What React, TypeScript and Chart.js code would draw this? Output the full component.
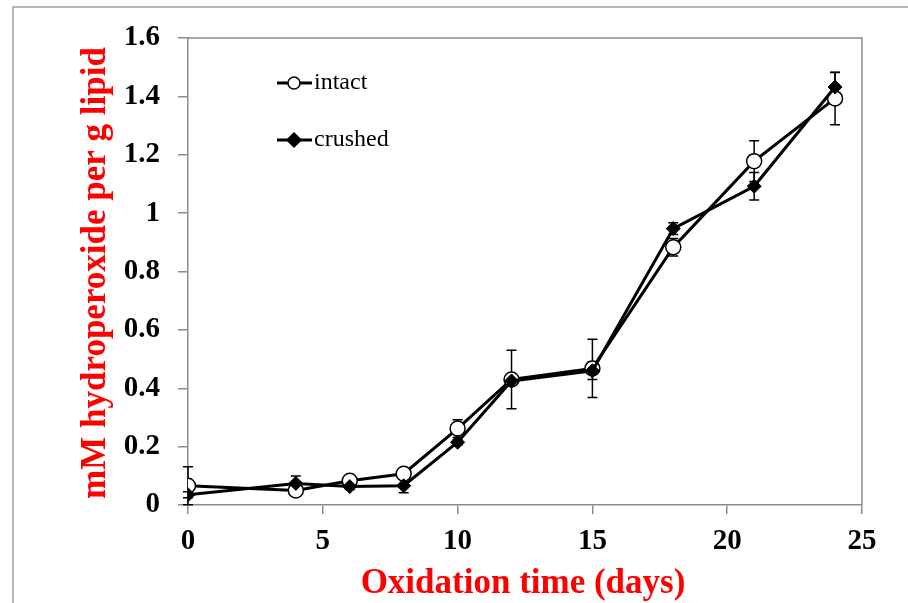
import React, { useEffect, useRef } from "react";
import { Chart, registerables } from "chart.js";

Chart.register(...registerables);

const days = [0, 4, 6, 8, 10, 12, 15, 18, 21, 24];
const intact = [0.066, 0.05, 0.083, 0.107, 0.262, 0.43, 0.468, 0.883, 1.178, 1.393];
const intactErr = [0.065, 0.015, 0.01, 0.02, 0.03, 0.1, 0.1, 0.03, 0.07, 0.09];
const crushed = [0.035, 0.074, 0.063, 0.066, 0.215, 0.425, 0.46, 0.947, 1.092, 1.432];
const crushedErr = [0.01, 0.025, 0.01, 0.024, 0.01, 0.01, 0.03, 0.02, 0.047, 0.05];
const seriesNames = ["intact", "crushed"];
const yTickLabels = ["0", "0.2", "0.4", "0.6", "0.8", "1", "1.2", "1.4", "1.6"];
const xTitle = "Oxidation time (days)";
const yTitle = "mM hydroperoxide per g lipid";

const SERIF = "'Liberation Serif', 'Times New Roman', serif";
const AXIS_GRAY = "#8c8c8c";

const errorBarPlugin = {
  id: "errorBars",
  beforeDatasetsDraw(chart: any) {
    const ctx = chart.ctx;
    const xs = chart.scales.x;
    const ys = chart.scales.y;
    const errs = [intactErr, crushedErr];
    const vals = [intact, crushed];
    ctx.save();
    ctx.strokeStyle = "#000";
    ctx.lineWidth = 1.5;
    for (let s = 0; s < 2; s++) {
      for (let i = 0; i < days.length; i++) {
        const x = xs.getPixelForValue(days[i]);
        const yt = ys.getPixelForValue(vals[s][i] + errs[s][i]);
        const yb = ys.getPixelForValue(vals[s][i] - errs[s][i]);
        ctx.beginPath();
        ctx.moveTo(x, yt);
        ctx.lineTo(x, yb);
        ctx.moveTo(x - 5, yt);
        ctx.lineTo(x + 5, yt);
        ctx.moveTo(x - 5, yb);
        ctx.lineTo(x + 5, yb);
        ctx.stroke();
      }
    }
    ctx.restore();
  },
  afterDraw(chart: any) {
    const ctx = chart.ctx;
    const a = chart.chartArea;
    ctx.save();
    // plot box
    ctx.strokeStyle = AXIS_GRAY;
    ctx.lineWidth = 1.5;
    ctx.beginPath();
    ctx.moveTo(a.left, a.top);
    ctx.lineTo(a.right, a.top);
    ctx.lineTo(a.right, a.bottom);
    ctx.stroke();
    // outer frame
    ctx.strokeStyle = "#a0a0a0";
    ctx.lineWidth = 1.5;
    ctx.beginPath();
    ctx.moveTo(13, 603);
    ctx.lineTo(13, 7);
    ctx.lineTo(908, 7);
    ctx.stroke();
    // axis titles
    ctx.fillStyle = "#ff0000";
    ctx.font = `bold 35px ${SERIF}`;
    ctx.textAlign = "center";
    ctx.textBaseline = "middle";
    ctx.fillText(xTitle, 523, 584);
    ctx.translate(96, 273);
    ctx.rotate(-Math.PI / 2);
    ctx.fillText(yTitle, 0, 0);
    ctx.restore();
    // legend
    ctx.save();
    const items = [
      { y: 83, style: "circle", fill: "#fff" },
      { y: 140, style: "diamond", fill: "#000" },
    ];
    items.forEach((it, k) => {
      ctx.strokeStyle = "#000";
      ctx.lineWidth = 3;
      ctx.beginPath();
      ctx.moveTo(277, it.y);
      ctx.lineTo(312, it.y);
      ctx.stroke();
      ctx.lineWidth = 1.5;
      ctx.fillStyle = it.fill;
      ctx.beginPath();
      if (it.style === "circle") {
        ctx.arc(294, it.y, 6, 0, Math.PI * 2);
      } else {
        ctx.moveTo(294, it.y - 7);
        ctx.lineTo(301, it.y);
        ctx.lineTo(294, it.y + 7);
        ctx.lineTo(287, it.y);
        ctx.closePath();
      }
      ctx.fill();
      ctx.stroke();
      ctx.fillStyle = "#000";
      ctx.font = `24px ${SERIF}`;
      ctx.textAlign = "left";
      ctx.textBaseline = "middle";
      ctx.fillText(seriesNames[k], 314, it.y);
    });
    ctx.restore();
  },
};

export default function App() {
  const ref = useRef<HTMLCanvasElement>(null);
  useEffect(() => {
    if (!ref.current) return;
    const chart = new Chart(ref.current, {
      type: "line",
      data: {
        datasets: [
          {
            label: seriesNames[0],
            data: days.map((d, i) => ({ x: d, y: intact[i] })),
            borderColor: "#000",
            borderWidth: 3,
            pointStyle: "circle",
            pointRadius: 7.5,
            pointBackgroundColor: "#fff",
            pointBorderColor: "#000",
            pointBorderWidth: 1.5,
            order: 1,
          },
          {
            label: seriesNames[1],
            data: days.map((d, i) => ({ x: d, y: crushed[i] })),
            borderColor: "#000",
            borderWidth: 3,
            pointStyle: "rectRot",
            pointRadius: 7,
            pointBackgroundColor: "#000",
            pointBorderColor: "#000",
            pointBorderWidth: 1,
            order: 0,
          },
        ],
      },
      options: {
        animation: false,
        responsive: false,
        layout: { padding: { top: 38, right: 46, left: 0, bottom: 0 } },
        plugins: { legend: { display: false }, tooltip: { enabled: false } },
        scales: {
          x: {
            type: "linear",
            min: 0,
            max: 25,
            ticks: {
              stepSize: 5,
              color: "#000",
              padding: 10,
              font: { family: SERIF, size: 29, weight: "bold" },
            },
            grid: { drawOnChartArea: false, color: AXIS_GRAY, tickLength: 9, lineWidth: 1.5 },
            border: { color: AXIS_GRAY, width: 1.5 },
            afterFit: (s: any) => {
              s.height = 98;
            },
          },
          y: {
            min: 0,
            max: 1.6,
            ticks: {
              stepSize: 0.2,
              color: "#000",
              padding: 18,
              font: { family: SERIF, size: 29, weight: "bold" },
              callback: (_v: any, i: number) => yTickLabels[i],
            },
            grid: { drawOnChartArea: false, color: AXIS_GRAY, tickLength: 10, lineWidth: 1.5 },
            border: { color: AXIS_GRAY, width: 1.5 },
            afterFit: (s: any) => {
              s.width = 188;
            },
          },
        },
      },
      plugins: [errorBarPlugin],
    } as any);
    return () => chart.destroy();
  }, []);
  return (
    <div style={{ position: "absolute", left: 0, top: 0, width: 908, height: 603, background: "#fff" }}>
      <canvas ref={ref} width={908} height={603} style={{ display: "block" }} />
    </div>
  );
}
